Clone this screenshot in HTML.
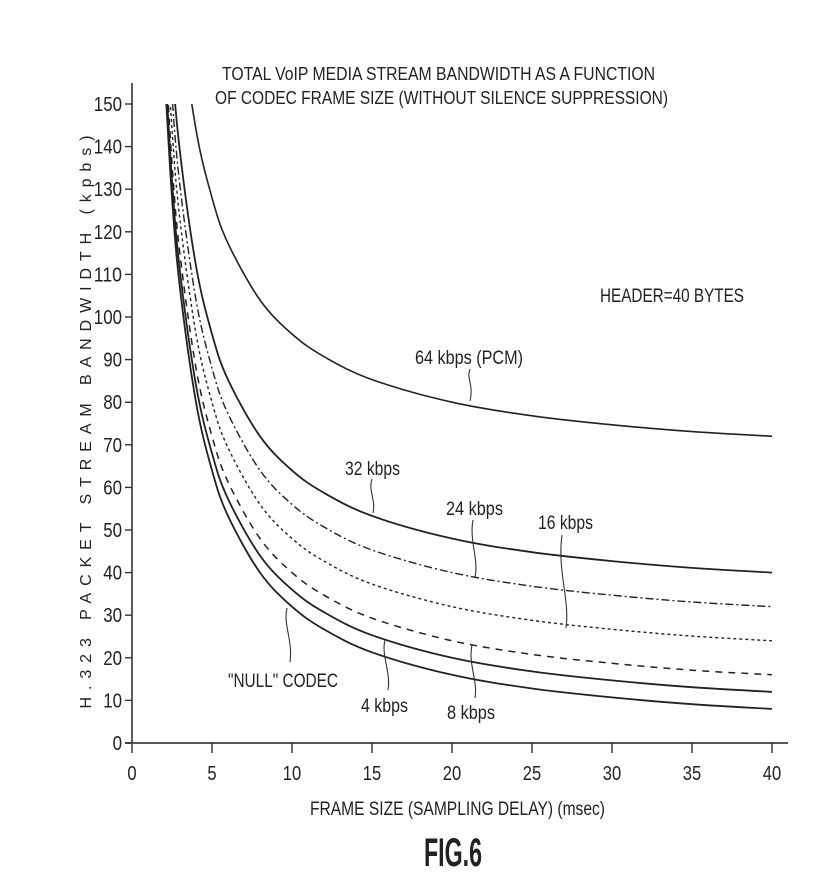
<!DOCTYPE html>
<html><head><meta charset="utf-8"><style>
html,body{margin:0;padding:0;background:#fff;}
svg{display:block;}
text{font-family:"Liberation Sans",sans-serif;fill:#222;}
</style></head><body>
<svg id="chart" width="824" height="882" viewBox="0 0 824 882">
<defs><clipPath id="plotclip"><rect x="132" y="104" width="660" height="640"/></clipPath></defs>
<g id="axes"></g>
<g id="series" clip-path="url(#plotclip)"></g>
<g id="labels"></g>
</svg>
<script>
const frameSizes = [2, 2.5, 3, 4, 5, 6, 8, 10, 12, 15, 20, 25, 30, 35, 40];
const nullCodec = [160, 128, 106.7, 80, 64, 53.3, 40, 32, 26.7, 21.3, 16, 12.8, 10.7, 9.1, 8];
const kbps4 = [164, 132, 110.7, 84, 68, 57.3, 44, 36, 30.7, 25.3, 20, 16.8, 14.7, 13.1, 12];
const kbps8 = [168, 136, 114.7, 88, 72, 61.3, 48, 40, 34.7, 29.3, 24, 20.8, 18.7, 17.1, 16];
const kbps16 = [176, 144, 122.7, 96, 80, 69.3, 56, 48, 42.7, 37.3, 32, 28.8, 26.7, 25.1, 24];
const kbps24 = [184, 152, 130.7, 104, 88, 77.3, 64, 56, 50.7, 45.3, 40, 36.8, 34.7, 33.1, 32];
const kbps32 = [192, 160, 138.7, 112, 96, 85.3, 72, 64, 58.7, 53.3, 48, 44.8, 42.7, 41.1, 40];
const kbps64 = [224, 192, 170.7, 144, 128, 117.3, 104, 96, 90.7, 85.3, 80, 76.8, 74.7, 73.1, 72];
const xTicks = [0, 5, 10, 15, 20, 25, 30, 35, 40];
const yTicks = [0, 10, 20, 30, 40, 50, 60, 70, 80, 90, 100, 110, 120, 130, 140, 150];

const NS = "http://www.w3.org/2000/svg";
function xs(v){ return 132 + v * 16.0; }
function ys(v){ return 743 - v * 4.26; }
function mk(tag, attrs, parent){ const e = document.createElementNS(NS, tag); for (const k in attrs) e.setAttribute(k, attrs[k]); parent.appendChild(e); return e; }

const axes = document.getElementById('axes');
let yAxis = mk('line', {x1:132, y1:83, x2:132, y2:743, stroke:'#333', 'stroke-width':1.6}, axes);


let xAxis = mk('line', {x1:125, y1:743, x2:788, y2:743, stroke:'#555', 'stroke-width':2}, axes);



xTicks.forEach(function(t){
  const tk = mk('line', {x1:xs(t), y1:743, x2:xs(t), y2:753, stroke:'#333', 'stroke-width':1.4}, axes);
  
  
  const s = String(t);
  const lb = mk('text', {x:xs(t) - s.length * 4.6, y:780, 'font-size':20, textLength:s.length * 9.2, lengthAdjust:'spacingAndGlyphs'}, axes);
  lb.textContent = s;
  
  
});
yTicks.forEach(function(t){
  const tk = mk('line', {x1:125, y1:ys(t), x2:132, y2:ys(t), stroke:'#333', 'stroke-width':1.4}, axes);
  
  
  const s = String(t);
  const lb = mk('text', {x:122 - s.length * 9.4, y:ys(t)+7, 'font-size':20, textLength:s.length * 9.4, lengthAdjust:'spacingAndGlyphs'}, axes);
  lb.textContent = s;
  
  
});

const seriesG = document.getElementById('series');
function smoothPath(pts){
  let d = 'M' + pts[0][0].toFixed(1) + ',' + pts[0][1].toFixed(1);
  for (let i = 0; i < pts.length - 1; i++){
    const p0 = pts[Math.max(0, i-1)], p1 = pts[i], p2 = pts[i+1], p3 = pts[Math.min(pts.length-1, i+2)];
    const c1x = p1[0] + (p2[0]-p0[0])/6, c1y = p1[1] + (p2[1]-p0[1])/6;
    const c2x = p2[0] - (p3[0]-p1[0])/6, c2y = p2[1] - (p3[1]-p1[1])/6;
    d += 'C' + c1x.toFixed(1) + ',' + c1y.toFixed(1) + ' ' + c2x.toFixed(1) + ',' + c2y.toFixed(1) + ' ' + p2[0].toFixed(1) + ',' + p2[1].toFixed(1);
  }
  return d;
}
function drawSeries(vals, name, dash, width){
  const pts = frameSizes.map(function(t, i){ return [xs(t), ys(vals[i])]; });
  const p = mk('path', {d:smoothPath(pts), fill:'none', stroke:'#222', 'stroke-width':width, 'stroke-linejoin':'round'}, seriesG);
  if (dash) p.setAttribute('stroke-dasharray', dash);
  
  
}
drawSeries(nullCodec, 'line-null-codec', null, 1.8);
drawSeries(kbps4, 'line-4-kbps', null, 1.8);
drawSeries(kbps8, 'line-8-kbps', '7,6', 1.5);
drawSeries(kbps16, 'line-16-kbps', '3,3', 1.4);
drawSeries(kbps24, 'line-24-kbps', '8,3,2,3', 1.4);
drawSeries(kbps32, 'line-32-kbps', null, 1.8);
drawSeries(kbps64, 'line-64-kbps', null, 1.6);
</script>
<script>
(function(){
const NS = "http://www.w3.org/2000/svg";
const g = document.getElementById('labels');
function txt(x, y, s, size, name, len, extra){
  const e = document.createElementNS(NS, 'text');
  e.setAttribute('x', x); e.setAttribute('y', y); e.setAttribute('font-size', size);
  if (len){ e.setAttribute('textLength', len); e.setAttribute('lengthAdjust', 'spacingAndGlyphs'); }
  if (extra) for (const k in extra) e.setAttribute(k, extra[k]);
  e.textContent = s;
  
  
  g.appendChild(e);
  return e;
}
function lead(d, name){
  const p = document.createElementNS(NS, 'path');
  p.setAttribute('d', d); p.setAttribute('fill', 'none'); p.setAttribute('stroke', '#333'); p.setAttribute('stroke-width', 1.1);
  
  
  g.appendChild(p);
}
txt(222, 80, 'TOTAL VoIP MEDIA STREAM BANDWIDTH AS A FUNCTION', 18, 'chart-title-line-1', 433);
txt(215, 104, 'OF CODEC FRAME SIZE (WITHOUT SILENCE SUPPRESSION)', 18, 'chart-title-line-2', 453);
txt(600, 302, 'HEADER=40 BYTES', 19, 'header-note', 144);
txt(415, 364, '64 kbps (PCM)', 19, 'label-64-kbps', 108);
txt(345, 475, '32 kbps', 19, 'label-32-kbps', 55);
txt(446, 515, '24 kbps', 19, 'label-24-kbps', 57);
txt(538, 529, '16 kbps', 19, 'label-16-kbps', 55);
txt(228, 687, '"NULL" CODEC', 19, 'label-null-codec', 110);
txt(361, 712, '4 kbps', 19, 'label-4-kbps', 47);
txt(447, 719, '8 kbps', 19, 'label-8-kbps', 48);
lead('M470,369 C466,378 474,385 470,401', 'leader-64');
lead('M372,479 C368,490 376,500 373,513', 'leader-32');
lead('M473,520 C469,540 479,560 475,577', 'leader-24');
lead('M562,535 C557,570 570,600 566,628', 'leader-16');
lead('M287,608 C283,625 293,640 290,662', 'leader-null');
lead('M385,640 C381,655 391,672 388,690', 'leader-4');
lead('M472,645 C468,665 478,680 475,698', 'leader-8');
txt(310, 815, 'FRAME SIZE (SAMPLING DELAY) (msec)', 19, 'x-axis-title', 295);
txt(424, 866, 'FIG.6', 40, 'figure-label', 58, {'font-weight':'bold'});
const yt = document.createElementNS(NS, 'text');
yt.setAttribute('x', 0); yt.setAttribute('y', 0); yt.setAttribute('font-size', 16);
yt.setAttribute('text-anchor', 'middle');
yt.setAttribute('textLength', 573);
yt.setAttribute('transform', 'translate(91,422) rotate(-90)');
yt.textContent = 'H.323 PACKET STREAM BANDWIDTH  (kpbs)';


g.appendChild(yt);
})();
</script>
</body></html>
